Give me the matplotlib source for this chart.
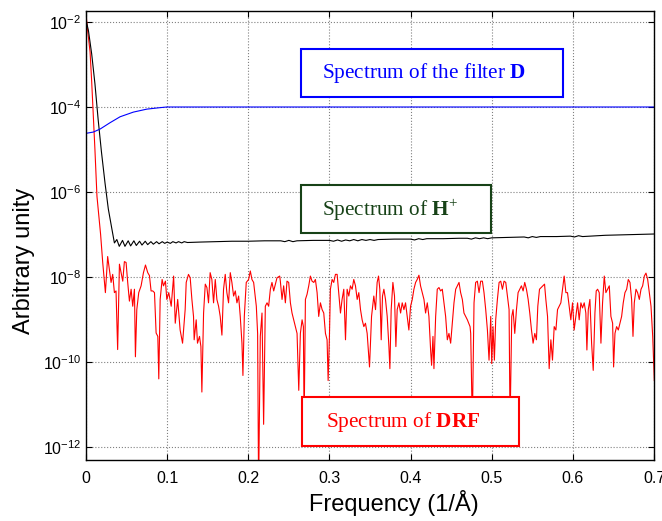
import numpy as np
import matplotlib
matplotlib.use("Agg")
import matplotlib.pyplot as plt
from matplotlib.ticker import FixedLocator, LogFormatterSciNotation, NullLocator
from matplotlib.patches import Rectangle

plt.rcParams.update({'font.family': 'Liberation Sans', 'font.size': 11,
                     'mathtext.fontset': 'custom',
                     'mathtext.rm': 'Liberation Serif',
                     'mathtext.bf': 'Liberation Serif:bold'})

# spectrum of the filter D  (frequency, log10 amplitude)
d_freq = [0.0, 0.009, 0.0173, 0.0296, 0.042, 0.0584, 0.075, 0.0914, 0.0996, 0.2, 0.4, 0.6, 0.7]
d_log = [-4.62, -4.59, -4.52, -4.37, -4.23, -4.12, -4.05, -4.015, -4.0, -4.0, -4.0, -4.0, -4.0]

# spectrum of H+
h_freq = [0.0, 0.003, 0.007, 0.011, 0.015, 0.019, 0.0235, 0.0275, 0.0317, 0.035,
          0.038, 0.041, 0.045, 0.048, 0.052, 0.055, 0.059, 0.062, 0.066, 0.069,
          0.073, 0.076, 0.080, 0.083, 0.087, 0.090, 0.094, 0.097, 0.100, 0.104,
          0.107, 0.111, 0.114, 0.118, 0.121, 0.125, 0.14, 0.16, 0.18, 0.20,
          0.22, 0.24, 0.245, 0.25, 0.255, 0.26, 0.28, 0.30, 0.305, 0.31,
          0.315, 0.32, 0.325, 0.33, 0.335, 0.34, 0.345, 0.35, 0.355, 0.36,
          0.38, 0.40, 0.405, 0.41, 0.415, 0.42, 0.44, 0.46, 0.47, 0.475,
          0.48, 0.485, 0.49, 0.495, 0.50, 0.52, 0.54, 0.545, 0.55, 0.555,
          0.56, 0.58, 0.597, 0.602, 0.607, 0.612, 0.64, 0.66, 0.68, 0.70]
h_log = [-1.95, -2.2, -2.75, -3.45, -4.3, -5.05, -5.8, -6.4, -6.85, -7.2,
         -7.12, -7.28, -7.14, -7.28, -7.15, -7.27, -7.15, -7.26, -7.16, -7.25,
         -7.16, -7.24, -7.17, -7.23, -7.17, -7.22, -7.17, -7.21, -7.18, -7.21,
         -7.17, -7.20, -7.17, -7.20, -7.17, -7.19, -7.18, -7.17, -7.16, -7.16,
         -7.15, -7.15, -7.17, -7.14, -7.17, -7.15, -7.14, -7.14, -7.16, -7.13,
         -7.16, -7.13, -7.15, -7.12, -7.15, -7.12, -7.14, -7.12, -7.14, -7.12,
         -7.11, -7.11, -7.13, -7.10, -7.12, -7.10, -7.10, -7.09, -7.09, -7.11,
         -7.08, -7.10, -7.08, -7.10, -7.08, -7.07, -7.06, -7.08, -7.05, -7.07,
         -7.05, -7.05, -7.04, -7.06, -7.03, -7.05, -7.02, -7.01, -7.0, -6.99]

# spectrum of DRF
r_freq = [0.0, 0.002, 0.005, 0.007, 0.009, 0.011, 0.0135, 0.016, 0.018, 0.0206,
          0.0239, 0.0267, 0.0288, 0.0309, 0.0329, 0.035, 0.037, 0.039, 0.0412, 0.0432,
          0.0453, 0.0473, 0.0494, 0.0514, 0.0535, 0.0556, 0.0576, 0.0597, 0.0609, 0.0626,
          0.065, 0.0679, 0.0708, 0.0733, 0.0761, 0.0782, 0.0802, 0.0823, 0.0844, 0.0864,
          0.0885, 0.0897, 0.0914, 0.0938, 0.0955, 0.0979, 0.0996, 0.102, 0.105, 0.108,
          0.110, 0.113, 0.116, 0.119,
          0.1222, 0.1235, 0.1263, 0.1284, 0.1305, 0.1325, 0.1333, 0.1358, 0.1374, 0.1399,
          0.1416, 0.1428, 0.1449, 0.147, 0.149, 0.151, 0.153, 0.1551, 0.1572, 0.1593,
          0.1613, 0.1634, 0.1654, 0.1675, 0.1695, 0.1716, 0.1736, 0.1757, 0.1778, 0.1798,
          0.1819, 0.184, 0.186, 0.1881, 0.1901, 0.1922, 0.1934, 0.1951, 0.1975, 0.2004,
          0.2025, 0.2045, 0.2066, 0.2099, 0.2115, 0.2127, 0.2148, 0.2169, 0.2189, 0.221,
          0.2231, 0.2251, 0.2272, 0.2292, 0.2313, 0.2354, 0.2387,
          0.2395, 0.2416, 0.2436, 0.2457, 0.2477, 0.2498, 0.2519, 0.2539, 0.256, 0.2581,
          0.2601, 0.2622, 0.2642, 0.2663, 0.2679, 0.2688, 0.2704, 0.2724, 0.2745, 0.2765,
          0.2786, 0.2807, 0.2827, 0.2848, 0.2868, 0.2889, 0.291, 0.293, 0.2951, 0.2971,
          0.2984, 0.3, 0.3012, 0.3033, 0.3053, 0.3074, 0.3095, 0.3115, 0.3136, 0.3156,
          0.3177, 0.3198, 0.3218, 0.3239, 0.3259, 0.328, 0.33, 0.3321, 0.3342, 0.3362,
          0.3383, 0.3403, 0.3424, 0.3444, 0.3465, 0.3494, 0.3519, 0.3547,
          0.3568, 0.3588, 0.3605, 0.3621, 0.3638, 0.3654, 0.3671, 0.3691, 0.3712, 0.3733,
          0.3745, 0.3761, 0.3782, 0.3802, 0.3819, 0.3835, 0.3856, 0.3877, 0.3897, 0.3918,
          0.3938, 0.3959, 0.3979, 0.4, 0.4021, 0.4041, 0.4062, 0.4082, 0.4103, 0.4123,
          0.4144, 0.4165, 0.4185, 0.4206, 0.4226, 0.4247, 0.4259, 0.4276, 0.4288, 0.4309,
          0.4329, 0.435, 0.437, 0.4391, 0.4412, 0.4432, 0.4453, 0.4473, 0.4494, 0.4514,
          0.4535, 0.4556, 0.4576, 0.4597, 0.4617, 0.4638, 0.4658, 0.4679, 0.47, 0.4733,
          0.4741, 0.4761, 0.4782, 0.4802, 0.4823, 0.4844, 0.4864, 0.4885, 0.4905, 0.4926,
          0.4947, 0.4967, 0.4988, 0.5, 0.5016, 0.5033, 0.5049, 0.507, 0.5091, 0.5111,
          0.5132, 0.5152, 0.5173, 0.5193, 0.5214, 0.5226, 0.5247, 0.5263, 0.5284, 0.5305,
          0.5325, 0.5346, 0.5366, 0.5387, 0.5407, 0.5428, 0.5449, 0.5469, 0.549, 0.551,
          0.5531, 0.5551, 0.5568, 0.5589, 0.5609, 0.563, 0.5651, 0.5667, 0.5688, 0.5708,
          0.5729, 0.5749, 0.577, 0.5791, 0.5811, 0.5832, 0.5852, 0.5873, 0.5893,
          0.5914, 0.5934, 0.5955, 0.5975, 0.5996, 0.6016, 0.6037, 0.6058, 0.6078, 0.6099,
          0.6119, 0.614, 0.616, 0.6173, 0.619, 0.621, 0.6231, 0.6251, 0.6272, 0.6288,
          0.6305, 0.6325, 0.6346, 0.6366, 0.6387, 0.6407, 0.6428, 0.6449, 0.6469, 0.649,
          0.6502, 0.6519, 0.6539, 0.656, 0.658, 0.6601, 0.6621, 0.6642, 0.6663, 0.6683,
          0.6704, 0.6724, 0.6741, 0.6757, 0.6778, 0.6798, 0.6819, 0.684, 0.686, 0.6881,
          0.6901, 0.6922, 0.6942, 0.6963, 0.6984, 0.7004]
r_log = [-1.8, -2.2, -2.7, -3.4, -4.2, -5.0, -6.1, -6.6, -7.0, -7.66,
         -8.37, -7.52, -7.82, -8.13, -7.94, -8.37, -8.33, -9.71, -7.70, -7.90,
         -8.10, -7.64, -7.66, -8.13, -8.57, -8.29, -8.69, -8.29, -9.88, -8.77,
         -8.37, -8.21, -7.90, -7.72, -7.90, -7.97, -8.33, -8.33, -8.37, -9.32,
         -9.40, -10.40, -8.53, -8.06, -8.21, -8.10, -8.53, -8.37, -8.69, -7.98,
         -9.09, -8.53, -9.25, -9.56,
         -8.77, -8.13, -7.94, -8.02, -8.53, -8.93, -9.48, -9.01, -9.56, -9.40,
         -9.64, -10.71, -8.85, -8.17, -8.25, -8.61, -7.90, -8.06, -8.61, -8.06,
         -8.53, -8.69, -8.93, -9.37, -8.29, -7.94, -8.37, -8.61, -7.90, -8.13,
         -8.45, -8.33, -8.61, -8.45, -8.93, -9.56, -10.32, -8.93, -8.13, -8.06,
         -7.86, -8.06, -8.13, -8.69, -9.33, -13.0, -9.40, -8.85, -11.47, -8.69,
         -8.61, -8.69, -8.29, -8.13, -8.33, -8.02, -7.98,
         -8.10, -8.53, -8.21, -8.61, -8.10, -8.13, -8.61, -8.85, -9.01, -9.17,
         -9.33, -10.67, -9.33, -9.01, -9.17, -11.5, -8.53, -8.41, -8.21, -7.98,
         -8.10, -8.13, -8.06, -8.37, -8.93, -8.61, -8.77, -8.85, -9.33, -9.48,
         -10.44, -9.40, -8.29, -8.06, -8.13, -7.94, -7.94, -8.37, -8.85, -8.53,
         -8.29, -9.48, -8.29, -8.45, -8.21, -8.29, -8.06, -8.21, -8.53, -8.37,
         -8.77, -9.01, -9.17, -9.09, -9.33, -10.12, -8.93, -8.45,
         -8.77, -8.13, -7.98, -8.29, -9.48, -8.45, -8.29, -8.53, -8.93, -9.64,
         -10.16, -8.77, -8.13, -8.45, -9.64, -8.77, -8.61, -8.85, -8.61, -8.77,
         -8.61, -8.93, -9.25, -8.69, -8.53, -8.29, -8.13, -8.06, -7.96, -8.21,
         -8.37, -8.53, -8.85, -8.61, -8.93, -9.72, -10.08, -9.40, -10.16, -8.93,
         -8.29, -8.25, -8.33, -8.29, -8.61, -8.93, -9.48, -9.33, -9.56, -9.09,
         -8.61, -8.29, -8.21, -8.13, -8.37, -8.53, -8.85, -8.93, -9.01, -9.17,
         -9.33, -11.5, -8.61, -8.13, -8.10, -8.37, -8.10, -8.10, -8.37, -8.77,
         -9.25, -9.96, -8.93, -10.04, -9.17, -9.96, -9.01, -8.53, -8.13, -8.10,
         -8.29, -8.10, -8.13, -8.45, -8.77, -11.5, -8.93, -8.77, -9.33, -8.77,
         -8.37, -8.29, -8.21, -8.33, -8.13, -8.29, -8.53, -8.85, -9.25, -9.56,
         -9.33, -9.48, -8.69, -8.29, -8.25, -8.21, -8.17, -8.53, -8.93, -10.16,
         -9.48, -9.96, -9.17, -9.25, -8.77, -8.69, -8.61, -8.29, -7.98,
         -8.37, -8.37, -8.69, -9.01, -8.61, -9.25, -8.93, -8.61, -9.01, -8.61,
         -8.73, -8.61, -8.85, -9.72, -8.77, -8.53, -9.56, -10.2, -8.85, -8.33,
         -8.29, -8.37, -9.56, -8.61, -7.98, -8.37, -8.29, -8.21, -8.93, -9.09,
         -10.12, -9.33, -9.17, -9.25, -9.09, -8.93, -8.61, -8.37, -8.29, -8.06,
         -8.13, -8.53, -9.40, -8.61, -8.29, -8.37, -8.53, -8.29, -8.21, -7.98,
         -7.91, -8.06, -8.37, -8.69, -9.40, -10.44]

y_ticks = [1e-12, 1e-10, 1e-8, 1e-6, 1e-4, 1e-2]
x_ticks = [0, 0.1, 0.2, 0.3, 0.4, 0.5, 0.6, 0.7]
x_ticklabels = ['0', '0.1', '0.2', '0.3', '0.4', '0.5', '0.6', '0.7']

fig = plt.figure(figsize=(6.62, 5.21), dpi=100)
ax = fig.add_axes([86 / 662, 61 / 521, 568 / 662, 449 / 521])

ax.semilogy(r_freq, 10 ** np.array(r_log), color='#ff0000', lw=0.8)
ax.semilogy(h_freq, 10 ** np.array(h_log), color='k', lw=0.8)
ax.semilogy(d_freq, 10 ** np.array(d_log), color='#0000ff', lw=0.8)

ax.set_xlim(0, 0.7)
ax.set_ylim(10 ** -12.31, 10 ** -1.74)
ax.set_xticks(x_ticks)
ax.set_xticklabels(x_ticklabels)
ax.yaxis.set_major_locator(FixedLocator(y_ticks))
ax.yaxis.set_major_formatter(LogFormatterSciNotation())
ax.yaxis.set_minor_locator(NullLocator())
ax.tick_params(direction='in', length=4, width=0.8, top=True, right=True, labelsize=11.5)
ax.tick_params(axis='x', pad=8)
ax.grid(True, ls=':', color='#808080', lw=0.8)
for s in ax.spines.values():
    s.set_linewidth(1.0)

fig.text(393.5 / 662, 1 - 503 / 521, 'Frequency (1/Å)', ha='center', va='center', fontsize=17)
fig.text(24 / 662, 1 - 261 / 521, 'Arbitrary unity', ha='center', va='center', rotation=90, fontsize=17)

# annotation boxes
boxes = [
    (301, 49, 262, 48, '#0000ff', r'Spectrum of the filter $\mathbf{D}$', 322, 73),
    (301, 185, 190, 48, '#174217', r'Spectrum of $\mathbf{H}^{+}$', 322, 210),
    (302, 397, 217, 49, '#ff0000', r'Spectrum of $\mathbf{DRF}$', 326, 422),
]
for bx, by, bw, bh, col, label, tx, ty in boxes:
    fig.patches.append(Rectangle((bx / 662, 1 - (by + bh) / 521), bw / 662, bh / 521,
                                 transform=fig.transFigure, facecolor='white',
                                 edgecolor=col, lw=1.5, zorder=5))
    fig.text(tx / 662, 1 - ty / 521, label, color=col, ha='left', va='center',
             fontsize=15.3, family='Liberation Serif', zorder=6)

fig.savefig('out.png', dpi=100)
